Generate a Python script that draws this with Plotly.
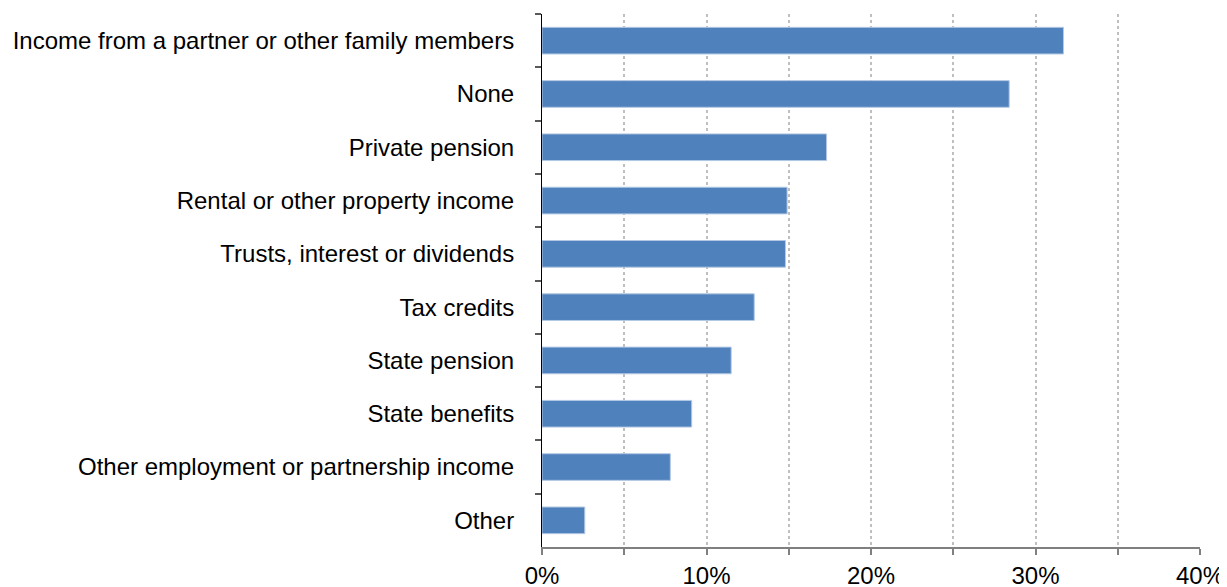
import plotly.graph_objects as go

categories = [
    "Income from a partner or other family members",
    "None",
    "Private pension",
    "Rental or other property income",
    "Trusts, interest or dividends",
    "Tax credits",
    "State pension",
    "State benefits",
    "Other employment or partnership income",
    "Other",
]
values = [31.7, 28.4, 17.3, 14.9, 14.8, 12.9, 11.5, 9.1, 7.8, 2.6]

x_tick_vals = [0, 5, 10, 15, 20, 25, 30, 35, 40]
x_tick_text = ["0%", "", "10%", "", "20%", "", "30%", "", "40%"]

fig = go.Figure()
fig.add_trace(go.Bar(
    x=values,
    y=categories,
    orientation="h",
    marker=dict(color="#4F81BD", line=dict(color="#B3C8E3", width=1)),
    width=0.5,
    hoverinfo="x+y",
))

# page body has an 8px margin; compensate so the chart lands where the reference is
fig.update_layout(
    width=1219,
    height=579,
    margin=dict(l=534, r=27, t=6, b=40, autoexpand=False),
    paper_bgcolor="white",
    plot_bgcolor="white",
    font=dict(family="Liberation Sans, Arial, sans-serif", size=24, color="black"),
    showlegend=False,
    bargap=0.5,
)

fig.update_xaxes(
    range=[0, 40],
    tickmode="array",
    tickvals=x_tick_vals,
    ticktext=x_tick_text,
    showgrid=True,
    gridcolor="#BFBFBF",
    griddash="dot",
    gridwidth=1.5,
    zeroline=False,
    showline=True,
    linecolor="#808080",
    linewidth=1.5,
    ticks="outside",
    ticklen=6,
    tickcolor="#808080",
    tickwidth=1.5,
    fixedrange=True,
)

fig.update_yaxes(
    type="category",
    categoryorder="array",
    categoryarray=categories,
    range=[9.5, -0.5],
    showgrid=False,
    zeroline=False,
    showline=True,
    linecolor="black",
    linewidth=1,
    ticks="outside",
    tickson="boundaries",
    ticklen=6,
    tickcolor="#595959",
    tickwidth=1.5,
    ticklabelstandoff=22,
    fixedrange=True,
)

fig.write_html("out.html")
